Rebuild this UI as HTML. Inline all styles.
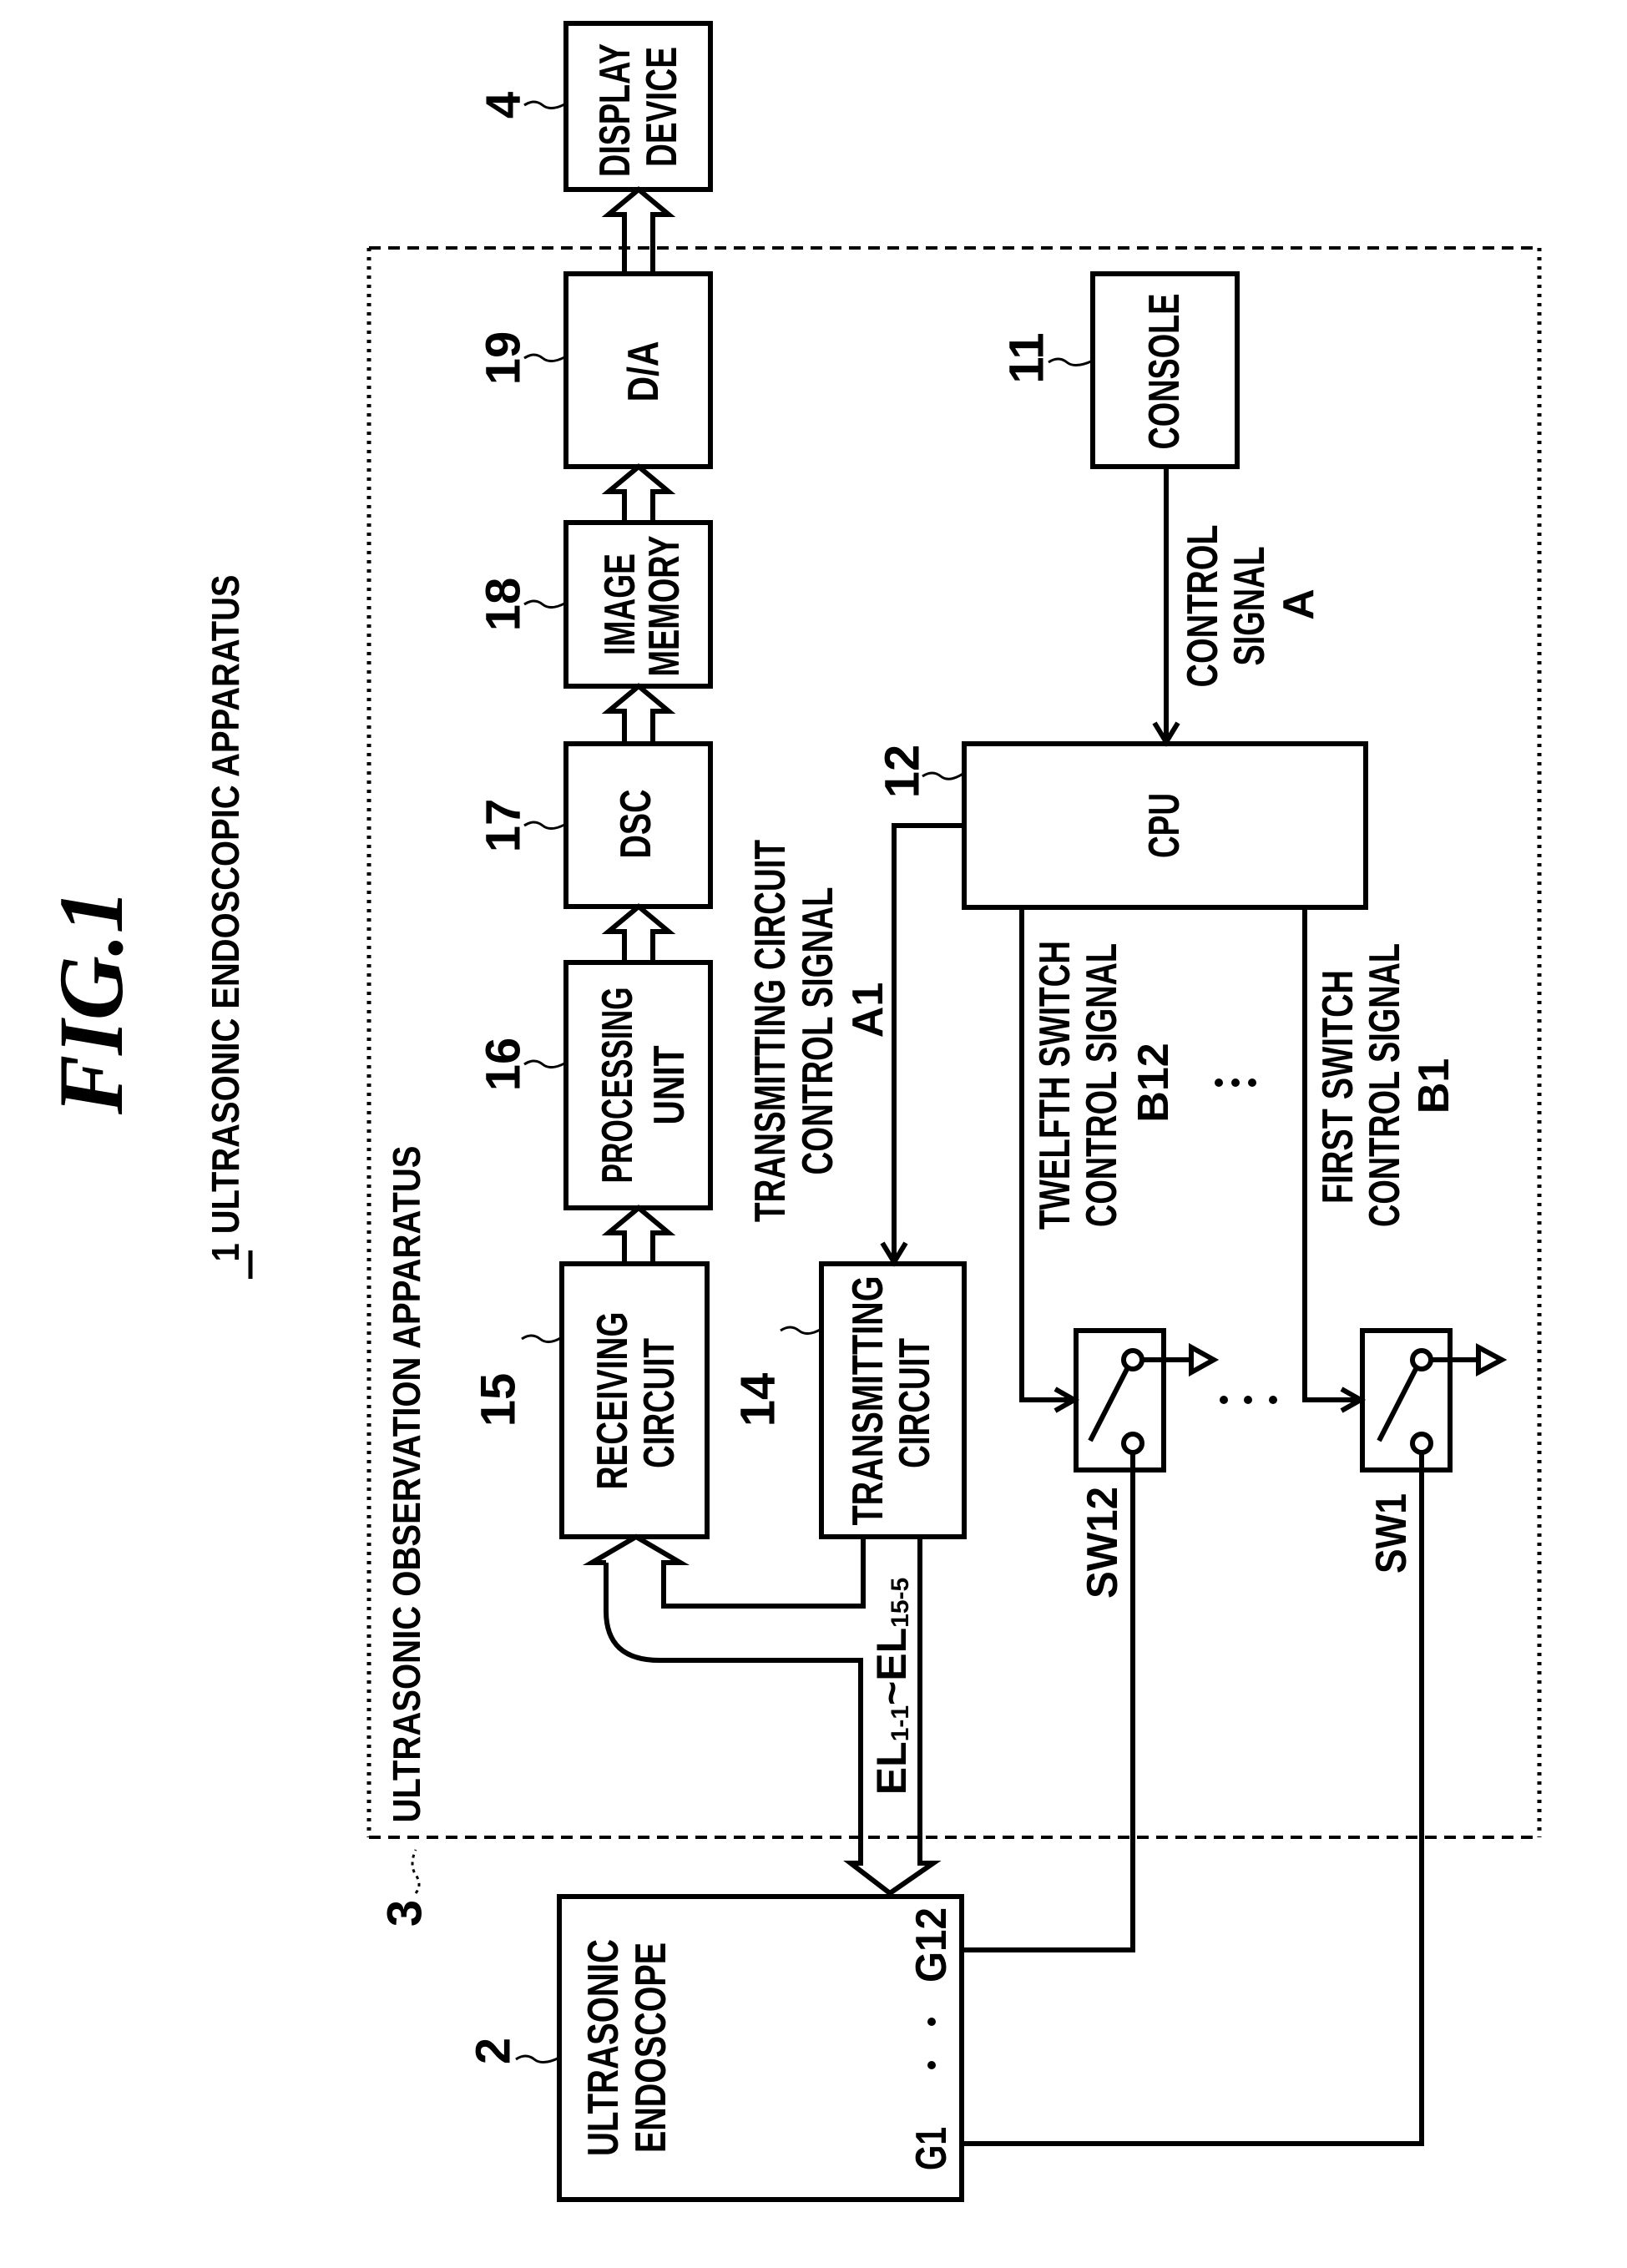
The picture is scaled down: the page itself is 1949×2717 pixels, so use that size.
<!DOCTYPE html>
<html><head><meta charset="utf-8"><style>
html,body{margin:0;padding:0;background:#fff}
svg{display:block}
text{font-family:"Liberation Sans Narrow","Liberation Sans",sans-serif;fill:#000;font-weight:bold}
</style></head><body>
<svg width="1949" height="2717" viewBox="0 0 1949 2717" xmlns="http://www.w3.org/2000/svg">
<g fill="none" stroke="#000" stroke-width="6">
<line x1="442" y1="297" x2="1844" y2="297" stroke-dasharray="14,9" stroke-width="4"/>
<line x1="442" y1="2201" x2="1844" y2="2201" stroke-dasharray="14,9" stroke-width="4"/>
<line x1="442" y1="297" x2="442" y2="2201" stroke-dasharray="4,7" stroke-width="5"/>
<line x1="1844" y1="297" x2="1844" y2="2201" stroke-dasharray="4,7" stroke-width="5"/>
<rect x="678" y="28" width="173" height="199"/>
<rect x="678" y="328" width="173" height="231"/>
<rect x="678" y="626" width="173" height="196"/>
<rect x="678" y="891" width="173" height="195"/>
<rect x="678" y="1153" width="173" height="294"/>
<rect x="673" y="1514" width="174" height="327"/>
<rect x="984" y="1514" width="171" height="327"/>
<rect x="1155" y="891" width="481" height="196"/>
<rect x="1309" y="328" width="173" height="231"/>
<rect x="670" y="2272" width="482" height="363"/>
<rect x="1289" y="1594" width="105" height="167"/>
<rect x="1632" y="1594" width="105" height="167"/>
<path d="M748,328 L748,257 L729,257 L765,227 L801,257 L782,257 L782,328"/>
<path d="M748,626 L748,589 L729,589 L765,559 L801,589 L782,589 L782,626"/>
<path d="M748,891 L748,852 L729,852 L765,822 L801,852 L782,852 L782,891"/>
<path d="M748,1153 L748,1116 L729,1116 L765,1086 L801,1116 L782,1116 L782,1153"/>
<path d="M748,1514 L748,1477 L729,1477 L765,1447 L801,1477 L782,1477 L782,1514"/>
<path d="M726,1872 L709,1872 L762,1841 L815,1872 L795,1872 L795,1924 L1034,1924 L1034,1841"/>
<path d="M726,1872 L726,1930 Q726,1989 790,1989 L1031,1989 L1031,2232 L1019,2232 L1066,2268 L1118,2232 L1102,2232 L1102,1841"/>
<line x1="1397" y1="559" x2="1397" y2="889"/>
<path d="M1383,866 L1397,889 L1411,866"/>
<path d="M1155,989 L1071,989 L1071,1512"/>
<path d="M1057,1489 L1071,1512 L1085,1489"/>
<path d="M1224,1087 L1224,1677 L1287,1677"/>
<path d="M1264,1664 L1287,1677 L1264,1690"/>
<path d="M1563,1087 L1563,1677 L1630,1677"/>
<path d="M1607,1664 L1630,1677 L1607,1690"/>
<circle cx="1357" cy="1629" r="11" fill="#fff"/>
<circle cx="1357" cy="1729" r="11" fill="#fff"/>
<line x1="1350" y1="1640" x2="1306" y2="1726"/>
<line x1="1368" y1="1629" x2="1427" y2="1629"/>
<path d="M1427,1614 L1454,1629 L1427,1644 Z"/>
<circle cx="1703" cy="1629" r="11" fill="#fff"/>
<circle cx="1703" cy="1729" r="11" fill="#fff"/>
<line x1="1696" y1="1640" x2="1652" y2="1726"/>
<line x1="1714" y1="1629" x2="1771" y2="1629"/>
<path d="M1771,1614 L1799,1629 L1771,1644 Z"/>
<path d="M1152,2336 L1357,2336 L1357,1740"/>
<path d="M1152,2568 L1703,2568 L1703,1740"/>
<g stroke-width="3">
<path d="M628,126 q12,-8 22,0 t28,-2"/>
<path d="M628,429 q12,-8 22,0 t28,-2"/>
<path d="M628,724 q12,-8 22,0 t28,-2"/>
<path d="M628,989 q12,-8 22,0 t28,-2"/>
<path d="M628,1275 q12,-8 22,0 t28,-2"/>
<path d="M625,1604 q12,-8 22,0 t26,-2"/>
<path d="M935,1594 q12,-8 22,0 t27,-2"/>
<path d="M1105,930 q12,-8 22,0 t28,-4"/>
<path d="M1256,434 q12,-8 22,0 t31,-2"/>
<path d="M618,2467 q12,-8 22,0 t30,-2"/>
<path d="M498,2268 q8,-10 0,-22 t0,-30" stroke-dasharray="4,5"/>
</g>
</g>
<g fill="#000">
<circle cx="1466" cy="1677" r="5"/><circle cx="1495" cy="1677" r="5"/><circle cx="1525" cy="1677" r="5"/>
<circle cx="1460" cy="1297" r="5"/><circle cx="1480" cy="1297" r="5"/><circle cx="1500" cy="1297" r="5"/>
<circle cx="1116" cy="2422" r="5"/><circle cx="1116" cy="2474" r="5"/>
</g>
<g text-anchor="middle" dominant-baseline="central" font-size="52">
<text transform="translate(109,1200) rotate(-90)" style="font-family:'Liberation Serif',serif;font-style:italic;font-weight:bold" font-size="110" textLength="270" lengthAdjust="spacingAndGlyphs">FIG.1</text>
<text transform="translate(270,1100) rotate(-90)" font-size="46" textLength="823" lengthAdjust="spacingAndGlyphs">1 ULTRASONIC ENDOSCOPIC APPARATUS</text>
<text transform="translate(487,1778) rotate(-90)" font-size="46" textLength="811" lengthAdjust="spacingAndGlyphs">ULTRASONIC OBSERVATION APPARATUS</text>
<text transform="translate(737,132) rotate(-90)" textLength="160" lengthAdjust="spacingAndGlyphs">DISPLAY</text>
<text transform="translate(793,128) rotate(-90)" textLength="144" lengthAdjust="spacingAndGlyphs">DEVICE</text>
<text transform="translate(771,445) rotate(-90)" textLength="73" lengthAdjust="spacingAndGlyphs">D/A</text>
<text transform="translate(743,724) rotate(-90)" textLength="122" lengthAdjust="spacingAndGlyphs">IMAGE</text>
<text transform="translate(796,726) rotate(-90)" textLength="169" lengthAdjust="spacingAndGlyphs">MEMORY</text>
<text transform="translate(762,987) rotate(-90)" textLength="83" lengthAdjust="spacingAndGlyphs">DSC</text>
<text transform="translate(740,1300) rotate(-90)" textLength="235" lengthAdjust="spacingAndGlyphs">PROCESSING</text>
<text transform="translate(802,1300) rotate(-90)" textLength="95" lengthAdjust="spacingAndGlyphs">UNIT</text>
<text transform="translate(734,1678) rotate(-90)" textLength="213" lengthAdjust="spacingAndGlyphs">RECEIVING</text>
<text transform="translate(790,1681) rotate(-90)" textLength="156" lengthAdjust="spacingAndGlyphs">CIRCUIT</text>
<text transform="translate(1040,1678) rotate(-90)" textLength="299" lengthAdjust="spacingAndGlyphs">TRANSMITTING</text>
<text transform="translate(1096,1681) rotate(-90)" textLength="156" lengthAdjust="spacingAndGlyphs">CIRCUIT</text>
<text transform="translate(1395,445) rotate(-90)" textLength="187" lengthAdjust="spacingAndGlyphs">CONSOLE</text>
<text transform="translate(1395,989) rotate(-90)" textLength="78" lengthAdjust="spacingAndGlyphs">CPU</text>
<text transform="translate(723,2453) rotate(-90)" textLength="260" lengthAdjust="spacingAndGlyphs">ULTRASONIC</text>
<text transform="translate(780,2453) rotate(-90)" textLength="252" lengthAdjust="spacingAndGlyphs">ENDOSCOPE</text>
<text transform="translate(1116,2574) rotate(-90)" textLength="52" lengthAdjust="spacingAndGlyphs">G1</text>
<text transform="translate(1116,2330) rotate(-90)" textLength="90" lengthAdjust="spacingAndGlyphs">G12</text>
<text transform="translate(1321,1848) rotate(-90)" textLength="134" lengthAdjust="spacingAndGlyphs">SW12</text>
<text transform="translate(1667,1837) rotate(-90)" textLength="96" lengthAdjust="spacingAndGlyphs">SW1</text>
<text transform="translate(1441,726) rotate(-90)" textLength="195" lengthAdjust="spacingAndGlyphs">CONTROL</text>
<text transform="translate(1497,726) rotate(-90)" textLength="143" lengthAdjust="spacingAndGlyphs">SIGNAL</text>
<text transform="translate(1556,724) rotate(-90)">A</text>
<text transform="translate(923,1235) rotate(-90)" textLength="458" lengthAdjust="spacingAndGlyphs">TRANSMITTING CIRCUIT</text>
<text transform="translate(980,1235) rotate(-90)" textLength="345" lengthAdjust="spacingAndGlyphs">CONTROL SIGNAL</text>
<text transform="translate(1040,1210) rotate(-90)">A1</text>
<text transform="translate(1264,1300) rotate(-90)" textLength="346" lengthAdjust="spacingAndGlyphs">TWELFTH SWITCH</text>
<text transform="translate(1320,1300) rotate(-90)" textLength="340" lengthAdjust="spacingAndGlyphs">CONTROL SIGNAL</text>
<text transform="translate(1382,1297) rotate(-90)">B12</text>
<text transform="translate(1603,1302) rotate(-90)" textLength="280" lengthAdjust="spacingAndGlyphs">FIRST SWITCH</text>
<text transform="translate(1659,1300) rotate(-90)" textLength="340" lengthAdjust="spacingAndGlyphs">CONTROL SIGNAL</text>
<text transform="translate(1718,1301) rotate(-90)">B1</text>
<text transform="translate(1068,2020) rotate(-90)" font-size="50">EL<tspan font-size="30" dy="10">1-1</tspan><tspan dy="-10">~EL</tspan><tspan font-size="30" dy="10">15-5</tspan></text>
<g font-size="58">
<text transform="translate(603,126) rotate(-90)">4</text>
<text transform="translate(603,429) rotate(-90)">19</text>
<text transform="translate(603,724) rotate(-90)">18</text>
<text transform="translate(603,989) rotate(-90)">17</text>
<text transform="translate(603,1275) rotate(-90)">16</text>
<text transform="translate(597,1677) rotate(-90)">15</text>
<text transform="translate(908,1677) rotate(-90)">14</text>
<text transform="translate(1081,924) rotate(-90)">12</text>
<text transform="translate(1230,429) rotate(-90)">11</text>
<text transform="translate(591,2457) rotate(-90)">2</text>
<text transform="translate(485,2292) rotate(-90)">3</text>
</g>
</g>
<line x1="300" y1="1498" x2="300" y2="1532" stroke="#000" stroke-width="5"/>
</svg>
</body></html>
